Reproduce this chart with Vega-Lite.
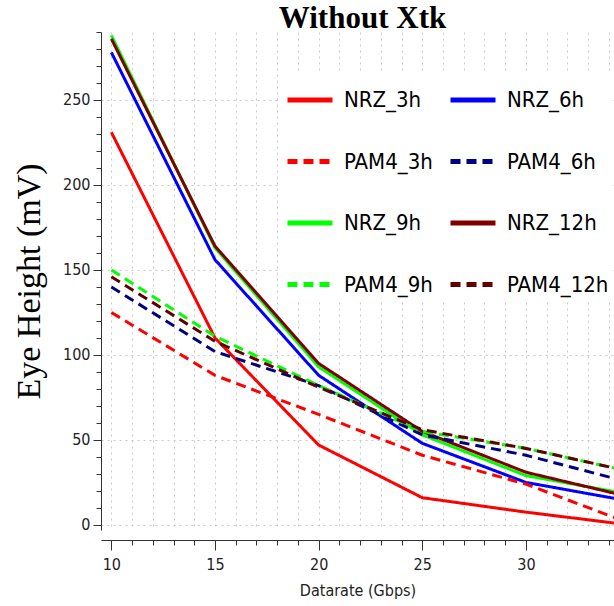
{
  "$schema": "https://vega.github.io/schema/vega-lite/v6.json",
  "autosize": "none",
  "width": 513,
  "height": 498,
  "padding": {"left": 101, "top": 32, "right": 0, "bottom": 76},
  "background": "white",
  "title": {"text": "Without Xtk", "font": "Liberation Serif", "fontSize": 31, "fontWeight": "bold", "color": "black", "offset": -3, "dx": 5},
  "data": {"values": [
    {"series": "NRZ_3h", "rate": 10, "eh": 231}, {"series": "NRZ_3h", "rate": 15, "eh": 110}, {"series": "NRZ_3h", "rate": 20, "eh": 47}, {"series": "NRZ_3h", "rate": 25, "eh": 16}, {"series": "NRZ_3h", "rate": 30, "eh": 7.5}, {"series": "NRZ_3h", "rate": 35, "eh": 0},
    {"series": "NRZ_6h", "rate": 10, "eh": 278}, {"series": "NRZ_6h", "rate": 15, "eh": 156}, {"series": "NRZ_6h", "rate": 20, "eh": 88}, {"series": "NRZ_6h", "rate": 25, "eh": 48}, {"series": "NRZ_6h", "rate": 30, "eh": 25}, {"series": "NRZ_6h", "rate": 35, "eh": 14},
    {"series": "NRZ_9h", "rate": 10, "eh": 288}, {"series": "NRZ_9h", "rate": 15, "eh": 163}, {"series": "NRZ_9h", "rate": 20, "eh": 93}, {"series": "NRZ_9h", "rate": 25, "eh": 53}, {"series": "NRZ_9h", "rate": 30, "eh": 29}, {"series": "NRZ_9h", "rate": 35, "eh": 18},
    {"series": "NRZ_12h", "rate": 10, "eh": 286}, {"series": "NRZ_12h", "rate": 15, "eh": 164}, {"series": "NRZ_12h", "rate": 20, "eh": 95}, {"series": "NRZ_12h", "rate": 25, "eh": 55}, {"series": "NRZ_12h", "rate": 30, "eh": 31}, {"series": "NRZ_12h", "rate": 35, "eh": 16.5},
    {"series": "PAM4_3h", "rate": 10, "eh": 125}, {"series": "PAM4_3h", "rate": 15, "eh": 88}, {"series": "PAM4_3h", "rate": 20, "eh": 65}, {"series": "PAM4_3h", "rate": 25, "eh": 41}, {"series": "PAM4_3h", "rate": 30, "eh": 24}, {"series": "PAM4_3h", "rate": 35, "eh": 1},
    {"series": "PAM4_6h", "rate": 10, "eh": 140}, {"series": "PAM4_6h", "rate": 15, "eh": 102}, {"series": "PAM4_6h", "rate": 20, "eh": 82}, {"series": "PAM4_6h", "rate": 25, "eh": 53}, {"series": "PAM4_6h", "rate": 30, "eh": 41}, {"series": "PAM4_6h", "rate": 35, "eh": 25},
    {"series": "PAM4_9h", "rate": 10, "eh": 150}, {"series": "PAM4_9h", "rate": 15, "eh": 111}, {"series": "PAM4_9h", "rate": 20, "eh": 82}, {"series": "PAM4_9h", "rate": 25, "eh": 55}, {"series": "PAM4_9h", "rate": 30, "eh": 45}, {"series": "PAM4_9h", "rate": 35, "eh": 31.5},
    {"series": "PAM4_12h", "rate": 10, "eh": 146}, {"series": "PAM4_12h", "rate": 15, "eh": 108}, {"series": "PAM4_12h", "rate": 20, "eh": 81}, {"series": "PAM4_12h", "rate": 25, "eh": 56}, {"series": "PAM4_12h", "rate": 30, "eh": 45}, {"series": "PAM4_12h", "rate": 35, "eh": 31.5}
  ]},
  "mark": {"type": "line", "strokeWidth": 3, "clip": true},
  "encoding": {
    "x": {
      "field": "rate", "type": "quantitative",
      "scale": {"domain": [9.5, 34.25], "nice": false, "zero": false},
      "axis": {
        "values": [10,11,12,13,14,15,16,17,18,19,20,21,22,23,24,25,26,27,28,29,30,31,32,33,34],
        "labelExpr": "datum.value % 5 === 0 ? datum.label : ''",
        "tickSize": {"condition": {"test": "datum.value % 5 === 0", "value": 10}, "value": 5},
        "offset": 10,
        "grid": true, "gridDash": [2, 4], "gridColor": "#c8c8c8", "gridWidth": 1,
        "domainColor": "#333", "tickColor": "#333",
        "labelFont": "DejaVu Sans Condensed", "labelFontSize": 16, "labelColor": "#222", "labelPadding": 6,
        "title": "Datarate (Gbps)", "titleFont": "DejaVu Sans Condensed", "titleFontSize": 16, "titleFontWeight": "normal", "titleColor": "#222", "titlePadding": 10
      }
    },
    "y": {
      "field": "eh", "type": "quantitative",
      "scale": {"domain": [-3, 290], "nice": false, "zero": false},
      "axis": {
        "values": [0,10,20,30,40,50,60,70,80,90,100,110,120,130,140,150,160,170,180,190,200,210,220,230,240,250,260,270,280,290],
        "labelExpr": "datum.value % 50 === 0 ? datum.label : ''",
        "tickSize": {"condition": {"test": "datum.value % 50 === 0", "value": 8}, "value": 5},
        "grid": true, "gridDash": [2, 4], "gridColor": "#c8c8c8",
        "gridOpacity": {"condition": {"test": "datum.value % 50 === 0", "value": 1}, "value": 0},
        "domainColor": "#333", "tickColor": "#333",
        "labelFont": "DejaVu Sans Condensed", "labelFontSize": 16, "labelColor": "#222", "labelPadding": 3,
        "title": "Eye Height (mV)", "titleFont": "Liberation Serif", "titleFontSize": 34, "titleFontWeight": "normal", "titleColor": "black", "titlePadding": 16
      }
    },
    "color": {
      "field": "series", "type": "nominal",
      "scale": {
        "domain": ["NRZ_3h", "NRZ_6h", "PAM4_3h", "PAM4_6h", "NRZ_9h", "NRZ_12h", "PAM4_9h", "PAM4_12h"],
        "range": ["#ff0000", "#0000ff", "#ff0000", "#000080", "#00ff00", "#800000", "#00ff00", "#600000"]
      },
      "legend": {
        "orient": "none", "legendX": 180, "legendY": 39, "columns": 2, "direction": "horizontal", "title": null,
        "symbolType": "stroke", "symbolSize": 2025, "symbolStrokeWidth": 5,
        "labelFont": "DejaVu Sans Condensed", "labelFontSize": 22, "labelColor": "black", "labelOffset": 9, "labelLimit": 200,
        "rowPadding": 25.5, "columnPadding": 7, "fillColor": "white", "padding": 4
      }
    },
    "strokeDash": {
      "field": "series", "type": "nominal",
      "scale": {
        "domain": ["NRZ_3h", "NRZ_6h", "PAM4_3h", "PAM4_6h", "NRZ_9h", "NRZ_12h", "PAM4_9h", "PAM4_12h"],
        "range": [[1, 0], [1, 0], [10, 6], [10, 6], [1, 0], [1, 0], [10, 6], [10, 6]]
      },
      "legend": {
        "orient": "none", "legendX": 180, "legendY": 39, "columns": 2, "direction": "horizontal", "title": null,
        "symbolType": "stroke", "symbolSize": 2025, "symbolStrokeWidth": 5,
        "labelFont": "DejaVu Sans Condensed", "labelFontSize": 22, "labelColor": "black", "labelOffset": 9, "labelLimit": 200,
        "rowPadding": 25.5, "columnPadding": 7, "fillColor": "white", "padding": 4
      }
    }
  },
  "config": {"view": {"stroke": null}}
}
